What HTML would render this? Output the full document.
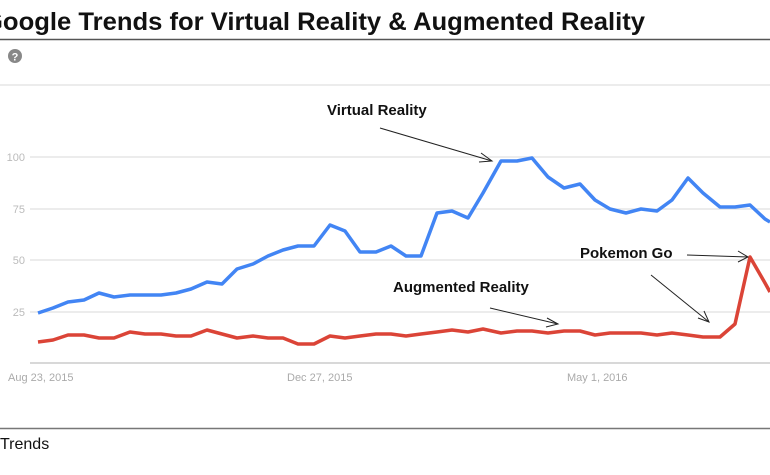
<!DOCTYPE html>
<html><head><style>
body{margin:0;width:770px;height:470px;overflow:hidden;background:#fff;font-family:"Liberation Sans",sans-serif}
</style></head><body>
<svg width="770" height="470" xmlns="http://www.w3.org/2000/svg">
<text x="-17" y="30" font-family="Liberation Sans" font-size="25" font-weight="bold" fill="#111" textLength="662" lengthAdjust="spacingAndGlyphs">Google Trends for Virtual Reality &amp; Augmented Reality</text>
<line x1="0" y1="39.5" x2="770" y2="39.5" stroke="#555" stroke-width="1.5"/>
<circle cx="15" cy="56" r="7" fill="#888"/>
<text x="15" y="60.5" font-size="11" font-weight="bold" fill="#fff" text-anchor="middle">?</text>
<g stroke="#e6e6e6" stroke-width="1.5">
<line x1="0" y1="85" x2="770" y2="85"/>
<line x1="30" y1="157" x2="770" y2="157"/>
<line x1="30" y1="209" x2="770" y2="209"/>
<line x1="30" y1="260" x2="770" y2="260"/>
<line x1="30" y1="312" x2="770" y2="312"/>
</g>
<line x1="30" y1="363" x2="770" y2="363" stroke="#ccc" stroke-width="1.5"/>
<g font-size="11" fill="#bbb" text-anchor="end">
<text x="25" y="161">100</text><text x="25" y="213">75</text><text x="25" y="264">50</text><text x="25" y="316">25</text>
</g>
<g font-size="11" fill="#aaa">
<text x="8" y="381">Aug 23, 2015</text><text x="287" y="381">Dec 27, 2015</text><text x="567" y="381">May 1, 2016</text>
</g>
<polyline fill="none" stroke="#4285f4" stroke-width="3.5" stroke-linejoin="round" points="38,313 53,308 68,302 84,300 99,293 114,297 130,295 145,295 161,295 176,293 191,289 207,282 222,284 237,269 253,264 268,256 283,250 298,246 314,246 330,225 345,231 360,252 376,252 391,246 406,256 421,256 437,213 452,211 468,218 483,193 501,161 517,161 532,158 548,177 564,188 580,184 595,200 610,209 626,213 641,209 657,211 672,200 688,178 703,193 720,207 735,207 750,205 765,219 770,222"/>
<polyline fill="none" stroke="#db4437" stroke-width="3.5" stroke-linejoin="round" points="38,342 53,340 68,335 84,335 99,338 114,338 130,332 145,334 161,334 176,336 191,336 207,330 222,334 237,338 253,336 268,338 283,338 298,344 314,344 330,336 345,338 360,336 376,334 391,334 406,336 421,334 437,332 452,330 468,332 483,329 501,333 517,331 532,331 548,333 564,331 580,331 595,335 610,333 626,333 641,333 657,335 672,333 688,335 703,337 720,337 735,324 750,257 765,283 770,292"/>
<g font-size="15" font-weight="bold" fill="#111">
<text x="327" y="115">Virtual Reality</text>
<text x="393" y="292">Augmented Reality</text>
<text x="580" y="258">Pokemon Go</text>
</g>
<g stroke="#222" stroke-width="1" fill="none">
<line x1="380" y1="128" x2="492" y2="161"/><polyline points="481,153 492,161 479,162"/>
<line x1="490" y1="308" x2="558" y2="324"/><polyline points="547,318 558,324 546,327"/>
<line x1="687" y1="255" x2="748" y2="257"/><polyline points="738,251 748,257 738,262"/>
<line x1="651" y1="275" x2="709" y2="322"/><polyline points="704,311 709,322 698,318"/>
</g>
<line x1="0" y1="428.5" x2="770" y2="428.5" stroke="#777" stroke-width="1.5"/>
<text x="0" y="449" font-size="16" fill="#111">Trends</text>
</svg>
</body></html>
